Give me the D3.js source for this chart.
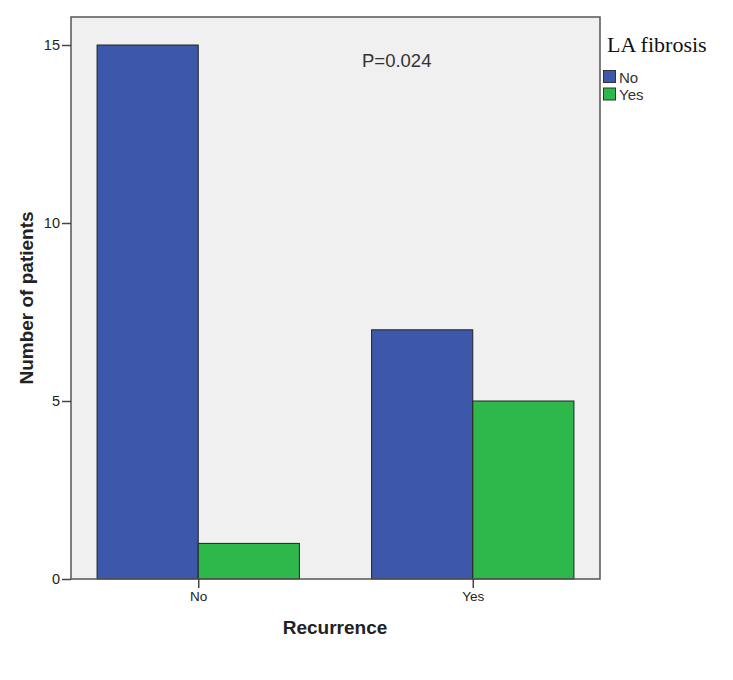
<!DOCTYPE html>
<html><head><meta charset="utf-8">
<script src="https://cdn.jsdelivr.net/npm/d3@7/dist/d3.min.js"></script>
<style>body{margin:0;background:#fff}</style>
</head><body>
<svg id="c" width="733" height="680"></svg>
<script>
const categories = ["No", "Yes"];
const series = ["No", "Yes"];
const valuesNo = [15, 7];
const valuesYes = [1, 5];
const yTicks = [0, 5, 10, 15];
const colors = ["#3d57ab", "#2eb84b"];

const svg = d3.select("#c");
const L = 71, R = 600, T = 17, B = 579;
const SANS = "Liberation Sans, Arial, sans-serif";
svg.append("rect").attr("x", L).attr("y", T).attr("width", R - L).attr("height", B - T)
  .attr("fill", "#f0f0f0");

const y = d3.scaleLinear().domain([0, 15]).range([B, 45]);
const x0 = d3.scaleBand().domain(categories).range([L, R]).paddingInner(0.263).paddingOuter(0.095);
const x1 = d3.scaleBand().domain(series).range([0, x0.bandwidth()]);

const data = categories.map((c, i) => ({c, vals: [valuesNo[i], valuesYes[i]]}));
const g = svg.append("g");
data.forEach(d => {
  d.vals.forEach((v, j) => {
    g.append("rect")
      .attr("x", x0(d.c) + x1(series[j]))
      .attr("y", y(v))
      .attr("width", x1.bandwidth())
      .attr("height", B - y(v))
      .attr("fill", colors[j])
      .attr("stroke", "#222").attr("stroke-width", 1);
  });
});

svg.append("rect").attr("x", L).attr("y", T).attr("width", R - L).attr("height", B - T)
  .attr("fill", "none").attr("stroke", "#555").attr("stroke-width", 1.5);

const ya = svg.append("g").attr("transform", `translate(${L},0)`)
  .call(d3.axisLeft(y).tickValues(yTicks).tickSize(9).tickPadding(2).tickSizeOuter(0).tickFormat(d3.format("d")));
ya.select(".domain").remove();
ya.selectAll("line").attr("stroke", "#444").attr("stroke-width", 1.5);
ya.selectAll("text").attr("font-family", SANS).attr("font-size", 14.5).attr("fill", "#222");

const xa = svg.append("g").attr("transform", `translate(0,${B})`)
  .call(d3.axisBottom(d3.scalePoint().domain(categories).range([x0("No") + x0.bandwidth() / 2, x0("Yes") + x0.bandwidth() / 2])).tickSize(9).tickPadding(3).tickSizeOuter(0));
xa.select(".domain").remove();
xa.selectAll("line").attr("stroke", "#444").attr("stroke-width", 1.5);
xa.selectAll("text").attr("font-family", SANS).attr("font-size", 13.5).attr("fill", "#222");

svg.append("text").attr("x", 335).attr("y", 634).attr("text-anchor", "middle")
  .attr("font-family", SANS).attr("font-weight", "bold").attr("font-size", 19).attr("fill", "#222")
  .text("Recurrence");
svg.append("text").attr("transform", "translate(33,298) rotate(-90)").attr("text-anchor", "middle")
  .attr("font-family", SANS).attr("font-weight", "bold").attr("font-size", 19).attr("fill", "#222")
  .text("Number of patients");

svg.append("text").attr("x", 362).attr("y", 67)
  .attr("font-family", SANS).attr("font-size", 18.5).attr("fill", "#333")
  .text("P=0.024");

svg.append("text").attr("x", 607).attr("y", 52)
  .attr("font-family", "Liberation Serif, Times New Roman, serif").attr("font-size", 22).attr("fill", "#111")
  .text("LA fibrosis");
series.forEach((s, j) => {
  svg.append("rect").attr("x", 603.5).attr("y", 70.5 + j * 17.5).attr("width", 12).attr("height", 12)
    .attr("fill", colors[j]).attr("stroke", "#333");
  svg.append("text").attr("x", 619).attr("y", 83 + j * 17)
    .attr("font-family", SANS).attr("font-size", 15).attr("fill", "#333")
    .text(s);
});
</script>
</body></html>
